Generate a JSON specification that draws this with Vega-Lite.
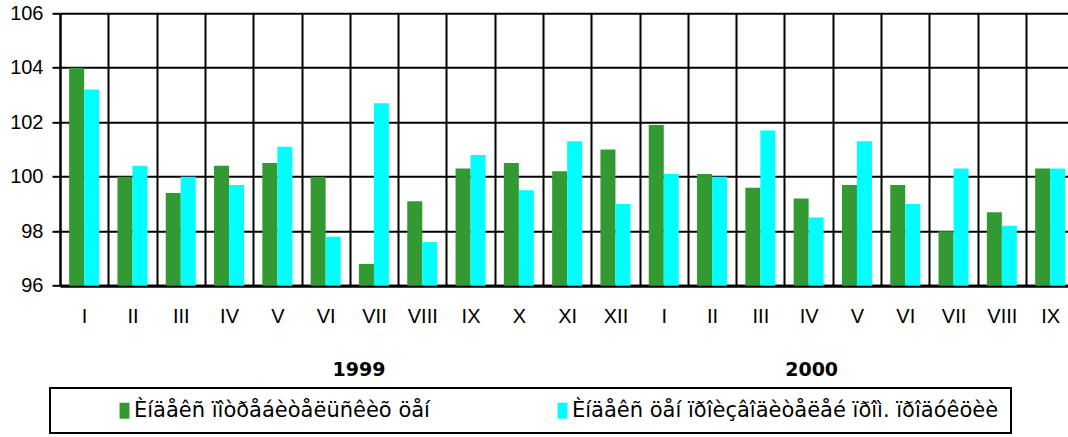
{
  "$schema": "https://vega.github.io/schema/vega-lite/v6.json",
  "autosize": {"type": "none"},
  "padding": {"left": 60, "top": 13.3, "right": 0, "bottom": 151.3},
  "width": 1008,
  "height": 272.4,
  "background": "white",
  "data": {
    "values": [
      {"period": "1999-I", "series": "Èíäåêñ ïîòðåáèòåëüñêèõ öåí", "value": 104.0},
      {"period": "1999-II", "series": "Èíäåêñ ïîòðåáèòåëüñêèõ öåí", "value": 100.0},
      {"period": "1999-III", "series": "Èíäåêñ ïîòðåáèòåëüñêèõ öåí", "value": 99.4},
      {"period": "1999-IV", "series": "Èíäåêñ ïîòðåáèòåëüñêèõ öåí", "value": 100.4},
      {"period": "1999-V", "series": "Èíäåêñ ïîòðåáèòåëüñêèõ öåí", "value": 100.5},
      {"period": "1999-VI", "series": "Èíäåêñ ïîòðåáèòåëüñêèõ öåí", "value": 100.0},
      {"period": "1999-VII", "series": "Èíäåêñ ïîòðåáèòåëüñêèõ öåí", "value": 96.8},
      {"period": "1999-VIII", "series": "Èíäåêñ ïîòðåáèòåëüñêèõ öåí", "value": 99.1},
      {"period": "1999-IX", "series": "Èíäåêñ ïîòðåáèòåëüñêèõ öåí", "value": 100.3},
      {"period": "1999-X", "series": "Èíäåêñ ïîòðåáèòåëüñêèõ öåí", "value": 100.5},
      {"period": "1999-XI", "series": "Èíäåêñ ïîòðåáèòåëüñêèõ öåí", "value": 100.2},
      {"period": "1999-XII", "series": "Èíäåêñ ïîòðåáèòåëüñêèõ öåí", "value": 101.0},
      {"period": "2000-I", "series": "Èíäåêñ ïîòðåáèòåëüñêèõ öåí", "value": 101.9},
      {"period": "2000-II", "series": "Èíäåêñ ïîòðåáèòåëüñêèõ öåí", "value": 100.1},
      {"period": "2000-III", "series": "Èíäåêñ ïîòðåáèòåëüñêèõ öåí", "value": 99.6},
      {"period": "2000-IV", "series": "Èíäåêñ ïîòðåáèòåëüñêèõ öåí", "value": 99.2},
      {"period": "2000-V", "series": "Èíäåêñ ïîòðåáèòåëüñêèõ öåí", "value": 99.7},
      {"period": "2000-VI", "series": "Èíäåêñ ïîòðåáèòåëüñêèõ öåí", "value": 99.7},
      {"period": "2000-VII", "series": "Èíäåêñ ïîòðåáèòåëüñêèõ öåí", "value": 98.0},
      {"period": "2000-VIII", "series": "Èíäåêñ ïîòðåáèòåëüñêèõ öåí", "value": 98.7},
      {"period": "2000-IX", "series": "Èíäåêñ ïîòðåáèòåëüñêèõ öåí", "value": 100.3},
      {"period": "1999-I", "series": "Èíäåêñ öåí ïðîèçâîäèòåëåé ïðîì. ïðîäóêöèè", "value": 103.2},
      {"period": "1999-II", "series": "Èíäåêñ öåí ïðîèçâîäèòåëåé ïðîì. ïðîäóêöèè", "value": 100.4},
      {"period": "1999-III", "series": "Èíäåêñ öåí ïðîèçâîäèòåëåé ïðîì. ïðîäóêöèè", "value": 100.0},
      {"period": "1999-IV", "series": "Èíäåêñ öåí ïðîèçâîäèòåëåé ïðîì. ïðîäóêöèè", "value": 99.7},
      {"period": "1999-V", "series": "Èíäåêñ öåí ïðîèçâîäèòåëåé ïðîì. ïðîäóêöèè", "value": 101.1},
      {"period": "1999-VI", "series": "Èíäåêñ öåí ïðîèçâîäèòåëåé ïðîì. ïðîäóêöèè", "value": 97.8},
      {"period": "1999-VII", "series": "Èíäåêñ öåí ïðîèçâîäèòåëåé ïðîì. ïðîäóêöèè", "value": 102.7},
      {"period": "1999-VIII", "series": "Èíäåêñ öåí ïðîèçâîäèòåëåé ïðîì. ïðîäóêöèè", "value": 97.6},
      {"period": "1999-IX", "series": "Èíäåêñ öåí ïðîèçâîäèòåëåé ïðîì. ïðîäóêöèè", "value": 100.8},
      {"period": "1999-X", "series": "Èíäåêñ öåí ïðîèçâîäèòåëåé ïðîì. ïðîäóêöèè", "value": 99.5},
      {"period": "1999-XI", "series": "Èíäåêñ öåí ïðîèçâîäèòåëåé ïðîì. ïðîäóêöèè", "value": 101.3},
      {"period": "1999-XII", "series": "Èíäåêñ öåí ïðîèçâîäèòåëåé ïðîì. ïðîäóêöèè", "value": 99.0},
      {"period": "2000-I", "series": "Èíäåêñ öåí ïðîèçâîäèòåëåé ïðîì. ïðîäóêöèè", "value": 100.1},
      {"period": "2000-II", "series": "Èíäåêñ öåí ïðîèçâîäèòåëåé ïðîì. ïðîäóêöèè", "value": 100.0},
      {"period": "2000-III", "series": "Èíäåêñ öåí ïðîèçâîäèòåëåé ïðîì. ïðîäóêöèè", "value": 101.7},
      {"period": "2000-IV", "series": "Èíäåêñ öåí ïðîèçâîäèòåëåé ïðîì. ïðîäóêöèè", "value": 98.5},
      {"period": "2000-V", "series": "Èíäåêñ öåí ïðîèçâîäèòåëåé ïðîì. ïðîäóêöèè", "value": 101.3},
      {"period": "2000-VI", "series": "Èíäåêñ öåí ïðîèçâîäèòåëåé ïðîì. ïðîäóêöèè", "value": 99.0},
      {"period": "2000-VII", "series": "Èíäåêñ öåí ïðîèçâîäèòåëåé ïðîì. ïðîäóêöèè", "value": 100.3},
      {"period": "2000-VIII", "series": "Èíäåêñ öåí ïðîèçâîäèòåëåé ïðîì. ïðîäóêöèè", "value": 98.2},
      {"period": "2000-IX", "series": "Èíäåêñ öåí ïðîèçâîäèòåëåé ïðîì. ïðîäóêöèè", "value": 100.3}
    ]
  },
  "layer": [
    {
      "mark": {"type": "bar", "clip": false},
      "encoding": {
        "x": {
          "field": "period",
          "type": "nominal",
          "sort": null,
          "scale": {"range": [0, 1014.3], "paddingInner": 0, "paddingOuter": 0},
          "axis": {
            "title": null,
            "labelExpr": "split(datum.label, '-')[1]",
            "labelAngle": 0,
            "tickBand": "extent",
            "grid": true,
            "gridColor": "black",
            "gridWidth": 2,
            "gridOpacity": 1,
            "ticks": false,
            "tickSize": 0,
            "domain": true,
            "domainColor": "black",
            "domainWidth": 3,
            "labelFont": "Liberation Sans",
            "labelFontSize": 20,
            "labelColor": "black",
            "labelPadding": 21
          }
        },
        "xOffset": {
          "field": "series",
          "type": "nominal",
          "sort": ["Èíäåêñ ïîòðåáèòåëüñêèõ öåí", "Èíäåêñ öåí ïðîèçâîäèòåëåé ïðîì. ïðîäóêöèè"],
          "scale": {"paddingInner": 0, "paddingOuter": 0.61}
        },
        "y": {
          "field": "value",
          "type": "quantitative",
          "scale": {"domain": [96, 106], "zero": false, "nice": false},
          "axis": {
            "title": null,
            "values": [96, 98, 100, 102, 104, 106],
            "format": "d",
            "grid": true,
            "gridColor": "black",
            "gridWidth": 2,
            "gridOpacity": 1,
            "ticks": true,
            "tickColor": "black",
            "tickSize": 8,
            "tickWidth": 2,
            "domain": true,
            "domainColor": "black",
            "domainWidth": 2,
            "labelFont": "Liberation Sans",
            "labelFontSize": 20,
            "labelColor": "black",
            "labelPadding": 9
          }
        },
        "y2": {"datum": 96},
        "color": {
          "field": "series",
          "type": "nominal",
          "scale": {
            "domain": ["Èíäåêñ ïîòðåáèòåëüñêèõ öåí", "Èíäåêñ öåí ïðîèçâîäèòåëåé ïðîì. ïðîäóêöèè"],
            "range": ["#339933", "#00ffff"]
          },
          "legend": {
            "orient": "none",
            "legendX": -10,
            "legendY": 374.7,
            "direction": "horizontal",
            "title": "\u00a0",
            "titleOrient": "left",
            "titleFontSize": 1,
            "titlePadding": 52,
            "padding": 12,
            "strokeColor": "black",
            "fillColor": "white",
            "symbolType": "M-0.62,-1H0.62V1H-0.62Z",
            "symbolSize": 256,
            "symbolStrokeWidth": 0,
            "symbolOpacity": 1,
            "labelFont": "DejaVu Sans",
            "labelFontSize": 21,
            "labelColor": "black",
            "labelOffset": -1,
            "labelLimit": 1000,
            "columnPadding": 122,
            "labelExpr": "datum.index == 1 ? datum.label + '\u00a0\u00a0\u00a0\u00a0\u00a0' : datum.label"
          }
        }
      }
    },
    {
      "data": {"values": [{"year": "1999"}]},
      "mark": {"type": "text", "font": "DejaVu Sans", "fontWeight": "bold", "fontSize": 19, "color": "black", "dx": -15, "baseline": "middle", "align": "center"},
      "encoding": {
        "x": {"datum": "1999-VII", "type": "nominal"},
        "y": {"datum": 92.9, "type": "quantitative"},
        "text": {"field": "year"}
      }
    },
    {
      "data": {"values": [{"year": "2000"}]},
      "mark": {"type": "text", "font": "DejaVu Sans", "fontWeight": "bold", "fontSize": 19, "color": "black", "dx": 3, "baseline": "middle", "align": "center"},
      "encoding": {
        "x": {"datum": "2000-IV", "type": "nominal"},
        "y": {"datum": 92.9, "type": "quantitative"},
        "text": {"field": "year"}
      }
    }
  ],
  "config": {
    "view": {"stroke": null},
    "legend": {"strokeColor": "black", "strokeWidth": 2}
  }
}
